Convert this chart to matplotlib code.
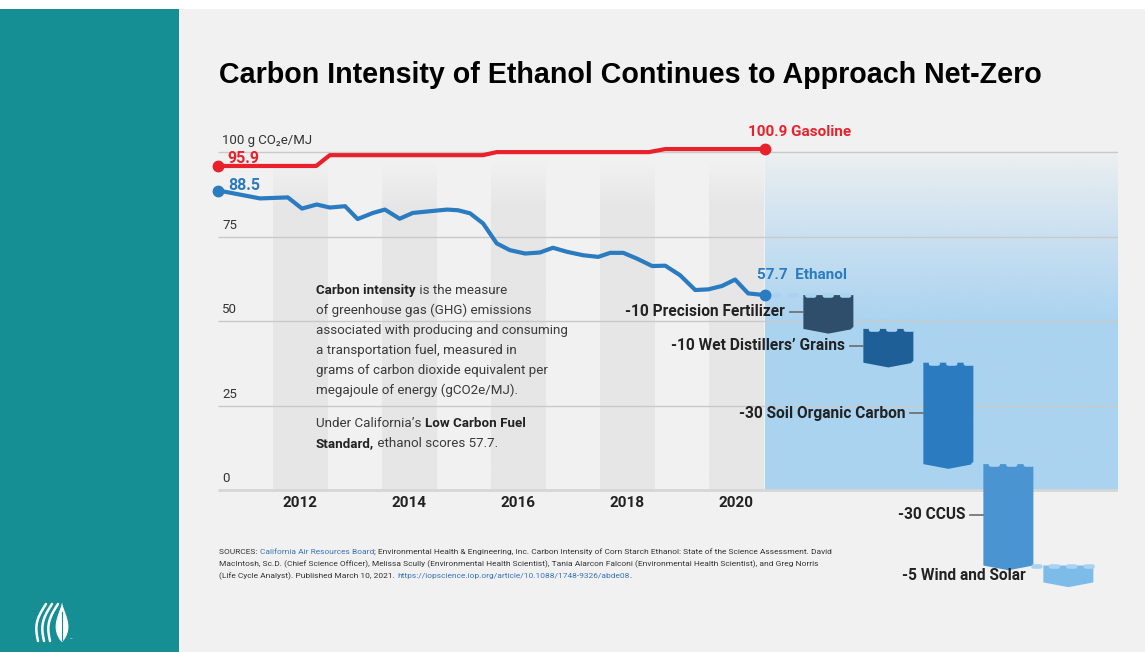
import numpy as np
import matplotlib.pyplot as plt
from matplotlib.patches import Polygon, Rectangle
from matplotlib.colors import to_rgb

# ---- data ----
gas_years = [2010.50, 2012.30, 2012.55, 2015.36, 2015.61, 2018.40, 2018.70, 2020.53]
gas_ci = [95.9, 95.9, 99.1, 99.1, 100.0, 100.0, 100.9, 100.9]

eth_years = [2010.50, 2010.62, 2011.27, 2011.78, 2012.04, 2012.31, 2012.55, 2012.83,
             2013.06, 2013.34, 2013.56, 2013.83, 2014.07, 2014.44, 2014.70, 2014.90,
             2015.12, 2015.36, 2015.61, 2015.85, 2016.13, 2016.40, 2016.64, 2016.90,
             2017.19, 2017.47, 2017.69, 2017.93, 2018.18, 2018.46, 2018.70, 2018.97,
             2019.25, 2019.49, 2019.74, 2019.98, 2020.22, 2020.53]
eth_ci = [88.5, 88.3, 86.3, 86.6, 83.3, 84.5, 83.6, 84.0,
          80.2, 82.0, 83.0, 80.3, 82.0, 82.6, 83.0, 82.8,
          81.9, 78.9, 73.0, 71.0, 70.0, 70.3, 71.7, 70.5,
          69.5, 69.0, 70.2, 70.2, 68.5, 66.3, 66.4, 63.6,
          59.2, 59.4, 60.4, 62.3, 58.2, 57.7]

year_ticks = [2012, 2014, 2016, 2018, 2020]
grid_vals = [0, 25, 50, 75, 100]
grid_labels = ['0', '25', '50', '75', '100 g CO\u2082e/MJ']

step_labels = ['-10 Precision Fertilizer', "-10 Wet Distillers\u2019 Grains",
               '-30 Soil Organic Carbon', '-30 CCUS', '-5 Wind and Solar']
step_changes = [-10, -10, -30, -30, -5]
step_colors = ['#2e4e6b', '#1f5f97', '#2a7bc0', '#4a95d1', '#7dbbe8']

RED = '#e8212b'
BLUE = '#2b7bc1'
BG = '#f1f1f1'
TXT = '#222222'

plt.rcParams['font.family'] = ['Roboto', 'DejaVu Sans']

fig = plt.figure(figsize=(11.45, 6.52), dpi=100)
fig.patch.set_facecolor(BG)
renderer = fig.canvas.get_renderer()


def pixel_axes(z):
    a = fig.add_axes([0, 0, 1, 1], zorder=z)
    a.set_xlim(0, 1145)
    a.set_ylim(652, 0)
    a.patch.set_alpha(0)
    a.axis('off')
    return a


# background / decoration axes in pixel coordinates
bg = pixel_axes(0)
bg.add_patch(Rectangle((0, 0), 1145, 9, color='white', lw=0))
bg.add_patch(Rectangle((0, 9), 179, 643, color='#158f94', lw=0))

# logo: leaf + swooshes
t = np.linspace(0, 1, 60)
leaf_x = np.concatenate([62 + 9 * np.sin(np.pi * t) ** 0.8 * (t ** 0.6),
                         (62 - 9 * np.sin(np.pi * t) ** 0.8 * (t ** 0.6))[::-1]])
leaf_y = np.concatenate([602 + 40 * t, (602 + 40 * t)[::-1]])
bg.add_patch(Polygon(np.column_stack([leaf_x, leaf_y]), closed=True, color='white', lw=0))
bg.plot([62, 62], [612, 640], color='#158f94', lw=0.8)
for off in [0, 6, 12]:
    sx = 50 - off + 8 * (1 - t) - 5 * np.sin(np.pi * t)
    sy = 604 + 37 * t
    bg.plot(sx, sy, color='white', lw=1.8, solid_capstyle='round')
bg.text(70, 641, '\u2122', color='white', fontsize=3)

# title
bg.text(219, 75, 'Carbon Intensity of Ethanol Continues to Approach Net-Zero',
        family=['Liberation Sans', 'DejaVu Sans'], fontweight='bold',
        fontsize=20.6, color='black', va='center', ha='left')


def rich_line(axis, x, y, parts, size):
    # pieces share one baseline; each starts where the previous one ended (pixel axes)
    for txt, weight, col in parts:
        tt = axis.text(x, y, txt, color=col, fontweight=weight, fontsize=size,
                       va='baseline', ha='left')
        x += tt.get_window_extent(renderer).width


# sources
LINK = '#3b73b9'
SRC = '#333333'
sources = [
    [('SOURCES: ', 'normal', SRC), ('California Air Resources Board', 'normal', LINK),
     ('; Environmental Health & Engineering, Inc. Carbon Intensity of Corn Starch Ethanol: '
      'State of the Science Assessment. David', 'normal', SRC)],
    [('MacIntosh, Sc.D. (Chief Science Officer), Melissa Scully (Environmental Health Scientist), '
      'Tania Alarcon Falconi (Environmental Health Scientist), and Greg Norris', 'normal', SRC)],
    [('(Life Cycle Analyst). Published March 10, 2021. ', 'normal', SRC),
     ('https://iopscience.iop.org/article/10.1088/1748-9326/abde08', 'normal', LINK),
     ('.', 'normal', SRC)],
]
for parts, yy in zip(sources, [554, 566, 578]):
    rich_line(bg, 219, yy, parts, 6.05)

# ---- main chart axes ----
ax = fig.add_axes([218 / 1145, 52 / 652, 900 / 1145, 480 / 652], zorder=1)
ax.patch.set_alpha(0)
ax.axis('off')
ax.set_autoscale_on(False)
x0, x1 = 2010.5, 2027.0
ax.set_xlim(x0, x1)
ax.set_ylim(-32.5, 109.5)

# alternating year bands with a soft top
vv = np.linspace(0, 100, 200)
band_rgba = np.zeros((200, 1, 4))
band_rgba[..., :3] = to_rgb('#e6e6e7')
band_rgba[:, 0, 3] = np.clip((97 - vv) / 14, 0, 1)
for yr in year_ticks:
    ax.imshow(band_rgba, extent=[yr - 0.5, yr + 0.5, 0, 100], origin='lower',
              aspect='auto', zorder=1, interpolation='bilinear')

# light-blue "future" panel
panel = np.zeros((200, 1, 4))
panel[..., :3] = to_rgb('#aad3f0')
panel[:, 0, 3] = np.clip((101 - vv) / 52, 0.02, 1) ** 0.85
ax.imshow(panel, extent=[gas_years[-1], x1, 0, 100], origin='lower',
          aspect='auto', zorder=1.5, interpolation='bilinear')

# gridlines and value labels
for gv, gl in zip(grid_vals, grid_labels):
    if gv == 0:
        ax.hlines(gv, x0, x1, color='#d6d6d6', lw=2.0, zorder=2)
    else:
        ax.hlines(gv, x0, x1, color='#c9c9c9', lw=1.0, zorder=2)
    ax.text(x0 + 0.08, gv + 3.3, gl, fontsize=9.5, color='#333333',
            va='center', ha='left', zorder=3)

for yr in year_ticks:
    ax.text(yr, -3.9, str(yr), fontsize=11, fontweight='bold', color=TXT,
            ha='center', va='center')

# lines
ax.plot(gas_years, gas_ci, color=RED, lw=3, solid_joinstyle='round',
        solid_capstyle='round', zorder=5, clip_on=False)
ax.plot([gas_years[0], gas_years[-1]], [gas_ci[0], gas_ci[-1]], 'o', color=RED,
        ms=7.5, zorder=6, clip_on=False)
ax.plot(eth_years, eth_ci, color=BLUE, lw=3, solid_joinstyle='round',
        solid_capstyle='round', zorder=5, clip_on=False)
ax.plot([eth_years[0], eth_years[-1]], [eth_ci[0], eth_ci[-1]], 'o', color=BLUE,
        ms=7.5, zorder=6, clip_on=False)

ax.text(eth_years[0] + 0.18, gas_ci[0] + 2.3, f'{gas_ci[0]:.1f}', color=RED,
        fontsize=11.5, fontweight='bold', va='center', ha='left', zorder=7)
ax.text(eth_years[0] + 0.18, eth_ci[0] + 1.7, f'{eth_ci[0]:.1f}', color=BLUE,
        fontsize=11.5, fontweight='bold', va='center', ha='left', zorder=7)
ax.text(gas_years[-1] - 0.31, gas_ci[-1] + 5.0, f'{gas_ci[-1]:.1f} Gasoline',
        color=RED, fontsize=11, fontweight='bold', va='center', ha='left')
ax.text(eth_years[-1] - 0.14, eth_ci[-1] + 5.9, f'{eth_ci[-1]:.1f}  Ethanol',
        color=BLUE, fontsize=11, fontweight='bold', va='center', ha='left')

# waterfall of reductions
bar_w = 0.917
first_c = 2021.69
gap = 1.1
level = eth_ci[-1]
prev_right = eth_years[-1] + 0.12
for i, (lab, ch, col) in enumerate(zip(step_labels, step_changes, step_colors)):
    c = first_c + i * gap
    left, right = c - bar_w / 2, c + bar_w / 2
    top, bot = level, level + ch
    poly = [(left, top), (right, top), (right, bot), (c, bot - 1.4), (left, bot)]
    ax.add_patch(Polygon(poly, closed=True, color=col, lw=0, zorder=4, clip_on=False))
    ax.plot([prev_right, right], [top, top], color='#a9d3f1', lw=3.3,
            dashes=(1.5, 2.3), dash_capstyle='round', zorder=4.5, clip_on=False)
    ymid = (top + bot) / 2
    if i < len(step_labels) - 1:
        ax.plot([left - 0.24, left], [ymid, ymid], color='#6b6b6b', lw=1.2, zorder=4)
        ax.text(left - 0.33, ymid, lab, fontsize=11.2, fontweight='bold', color=TXT,
                ha='right', va='center', zorder=6)
    else:
        ax.text(left - 0.33, bot + 1.9, lab, fontsize=11.2, fontweight='bold',
                color=TXT, ha='right', va='center', zorder=6)
    level = bot
    prev_right = right

# explanatory paragraph (on top of the bands)
fg = pixel_axes(2)
PAR = '#3a3a3a'
para = [
    [('Carbon intensity', 'bold', TXT), (' is the measure', 'normal', PAR)],
    [('of greenhouse gas (GHG) emissions', 'normal', PAR)],
    [('associated with producing and consuming', 'normal', PAR)],
    [('a transportation fuel, measured in', 'normal', PAR)],
    [('grams of carbon dioxide equivalent per', 'normal', PAR)],
    [('megajoule of energy (gCO2e/MJ).', 'normal', PAR)],
    [('Under California\u2019s ', 'normal', PAR), ('Low Carbon Fuel', 'bold', TXT)],
    [('Standard,', 'bold', TXT), (' ethanol scores 57.7.', 'normal', PAR)],
]
para_y = [294, 314, 334, 354, 374, 394, 427, 447]
for parts, yy in zip(para, para_y):
    rich_line(fg, 316, yy, parts, 9.6)

fig.savefig('out.png', dpi=100, facecolor=fig.get_facecolor())
